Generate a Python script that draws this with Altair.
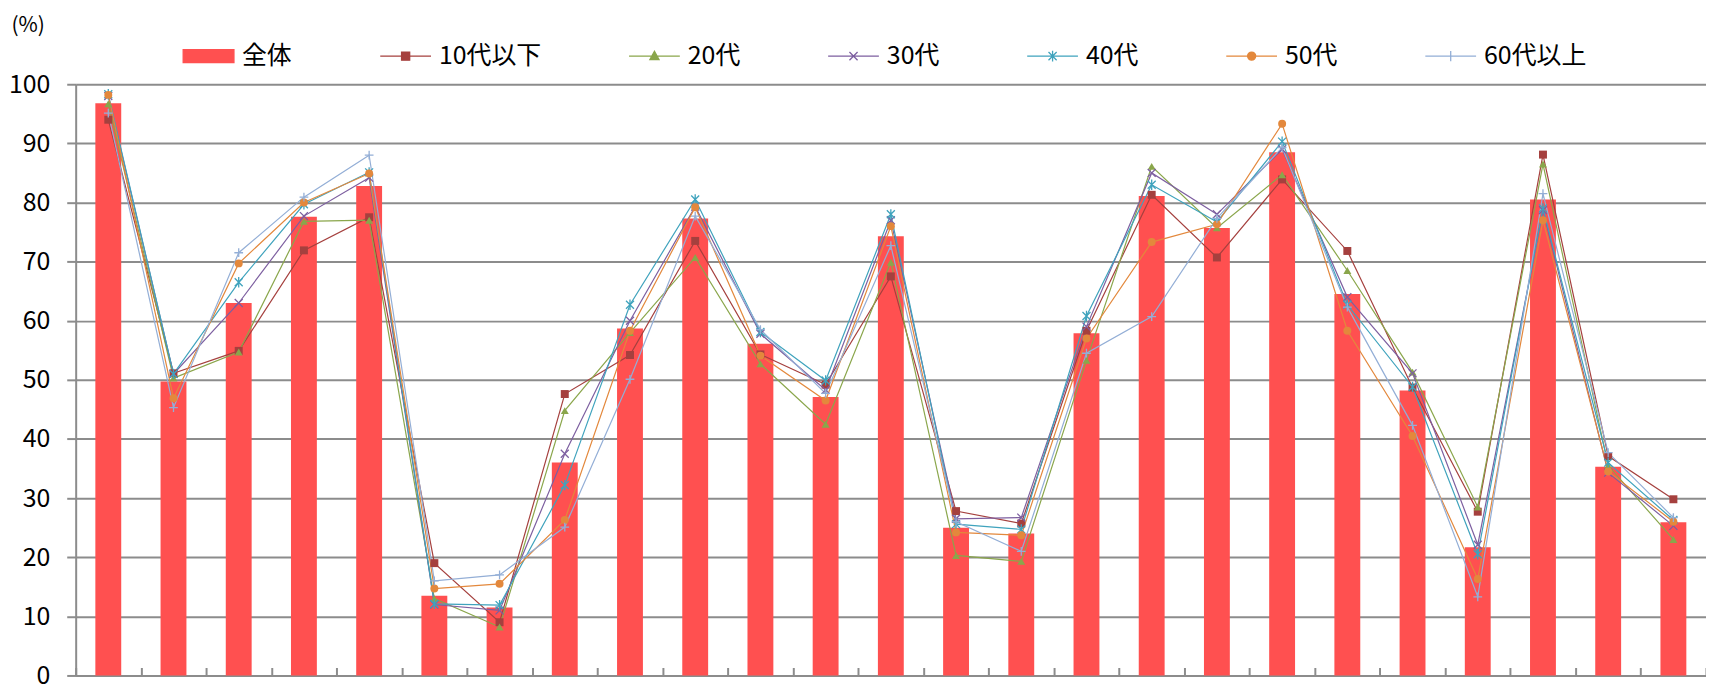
import altair as alt
import pandas as pd

categories = [f"項目{i}" for i in range(1, 26)]
series_names = ["全体", "10代以下", "20代", "30代", "40代", "50代", "60代以上"]
line_names = ["10代以下", "20代", "30代", "40代", "50代", "60代以上"]

zentai = [96.8, 49.7, 63.0, 77.6, 82.8, 13.5, 11.5, 36.0, 58.7, 77.3, 56.1, 47.1, 74.3,
          25.0, 24.0, 57.9, 81.1, 75.7, 88.5, 64.5, 48.2, 21.7, 80.5, 35.3, 25.9]
s10 = [94.0, 51.1, 54.9, 71.9, 77.5, 19.0, 9.0, 47.6, 54.2, 73.5, 54.3, 49.2, 67.5,
       27.8, 25.7, 58.3, 81.3, 70.7, 83.9, 71.8, 48.7, 27.7, 88.1, 37.1, 29.8]
s20 = [96.7, 50.3, 54.7, 76.8, 77.0, 13.0, 8.2, 44.8, 58.0, 70.7, 52.7, 42.5, 69.9,
       20.3, 19.3, 53.3, 86.1, 75.7, 84.7, 68.5, 51.3, 28.5, 86.5, 35.5, 23.0]
s30 = [98.0, 51.0, 63.0, 77.7, 84.2, 12.0, 11.0, 37.5, 60.0, 79.3, 57.8, 48.3, 77.0,
       26.5, 26.7, 59.0, 85.0, 78.0, 89.0, 64.0, 51.1, 22.1, 78.7, 34.3, 25.3]
s40 = [98.3, 51.0, 66.5, 79.7, 85.1, 12.1, 11.9, 32.2, 62.7, 80.5, 58.1, 49.9, 78.0,
       25.6, 24.7, 60.8, 83.0, 76.7, 90.3, 62.7, 48.8, 20.5, 79.0, 36.0, 26.3]
s50 = [98.2, 46.9, 69.7, 80.0, 84.9, 14.7, 15.5, 26.3, 58.3, 79.2, 54.1, 46.5, 76.0,
       24.2, 23.7, 57.0, 73.3, 76.3, 93.3, 58.3, 40.5, 16.3, 77.0, 34.5, 26.0]
s60 = [95.1, 45.3, 71.5, 80.9, 88.0, 16.0, 17.0, 25.1, 50.1, 77.7, 58.5, 47.7, 72.7,
       26.0, 21.0, 54.5, 60.7, 77.3, 89.3, 62.3, 42.3, 13.3, 81.5, 37.7, 26.7]

colors = ["#FF5050", "#A5403E", "#8AA64B", "#7D5FA0", "#3FA3BD", "#E3883C", "#93AED6"]

XP = "M-1,-1L1,1M-1,1L1,-1"
AST = "M-1,-1L1,1M-1,1L1,-1M0,-1.3V1.3"
PLUS = "M-1.1,0H1.1M0,-1.1V1.1"
marker_shapes = ["square", "triangle-up", XP, AST, "circle", PLUS]
marker_filled = [True, True, False, False, True, False]

# legend symbols: line + marker (custom paths scaled by sqrt(size)/2)
legend_paths = [
    "M-1,-0.255H1V0.255H-1Z",
    "M-1,0H1M-0.16,-0.16H0.16V0.16H-0.16Z",
    "M-1,0H1M0,-0.19L0.18,0.14L-0.18,0.14Z",
    "M-1,0H1M-0.16,-0.16L0.16,0.16M-0.16,0.16L0.16,-0.16",
    "M-1,0H1M-0.16,-0.16L0.16,0.16M-0.16,0.16L0.16,-0.16M0,-0.21V0.21",
    "M-1,0H1M-0.16,0A0.16,0.16,0,1,1,0.16,0A0.16,0.16,0,1,1,-0.16,0Z",
    "M-1,0H1M-0.2,0H0.2M0,-0.2V0.2",
]

all_values = [zentai, s10, s20, s30, s40, s50, s60]
rows = []
for name, vals in zip(series_names, all_values):
    for c, v in zip(categories, vals):
        rows.append({"category": c, "series": name, "value": v})
df = pd.DataFrame(rows)

FONT = "Noto Sans CJK JP"
GRAY = "#8C8C8C"

color_scale = alt.Scale(domain=series_names, range=colors)

x_enc = alt.X(
    "category:N", sort=categories,
    scale=alt.Scale(paddingInner=0, paddingOuter=0),
    axis=alt.Axis(orient="top", offset=-594, labels=False, title=None,
                  tickBand="extent", tickSize=8, tickColor=GRAY, tickWidth=2,
                  domainColor=GRAY, domainWidth=2, grid=False),
)
y_enc = alt.Y(
    "value:Q", scale=alt.Scale(domain=[0, 100]),
    axis=alt.Axis(values=list(range(0, 101, 10)), title="(%)", titleAngle=0,
                  titleX=-65, titleY=-59, titleAlign="left", titleBaseline="middle",
                  titleFont=FONT, titleFontSize=21, titleFontWeight="normal",
                  titleColor="black", labelFont=FONT, labelFontSize=25,
                  labelColor="black", labelPadding=17, tickSize=9, tickColor=GRAY,
                  tickWidth=2, domainColor=GRAY, domainWidth=2, gridColor=GRAY,
                  gridWidth=2, grid=True),
)

base = alt.Chart(df)

legend = alt.Legend(
    title=None, orient="none", legendX=107, legendY=-55,
    direction="horizontal", columns=7, gridAlign="each", columnPadding=85,
    symbolSize=2601, symbolStrokeWidth=1.3, symbolOpacity=1,
    labelFont=FONT, labelFontSize=25, labelColor="black",
    labelOffset=7, padding=0,
)

# empty layer that only carries the legend (placed first so its legend settings win)
legend_layer = base.transform_filter(alt.datum.value < 0).mark_point(
    filled=True, strokeWidth=1.3, opacity=1
).encode(
    x=x_enc, y=y_enc,
    color=alt.Color("series:N", scale=color_scale, legend=legend),
    stroke=alt.Stroke("series:N", scale=alt.Scale(domain=series_names, range=colors), legend=legend),
    shape=alt.Shape("series:N", scale=alt.Scale(domain=series_names, range=legend_paths), legend=legend),
)

bars = base.transform_filter(alt.datum.series == "全体").mark_bar(size=26).encode(
    x=x_enc, y=y_enc,
    color=alt.Color("series:N", scale=color_scale, legend=None),
)

lines = base.transform_filter(alt.datum.series != "全体").mark_line(strokeWidth=1.2).encode(
    x=x_enc, y=y_enc,
    color=alt.Color("series:N", scale=color_scale, legend=None),
)

point_layers = []
for name, shp, fl in zip(line_names, marker_shapes, marker_filled):
    point_layers.append(
        base.transform_filter(alt.datum.series == name).mark_point(
            shape=shp, filled=fl, strokeWidth=1.3, opacity=1, size=64
        ).encode(
            x=x_enc, y=y_enc,
            color=alt.Color("series:N", scale=color_scale, legend=None),
        )
    )

chart = alt.layer(legend_layer, bars, lines, *point_layers).properties(
    width=1638, height=594,
    autosize=alt.AutoSizeParams(type="none"),
    padding={"left": 68, "top": 75, "right": 0, "bottom": 10},
    background="white",
).configure_view(strokeWidth=0)

chart.save("out.html", embed_options={"renderer": "svg", "actions": False})
